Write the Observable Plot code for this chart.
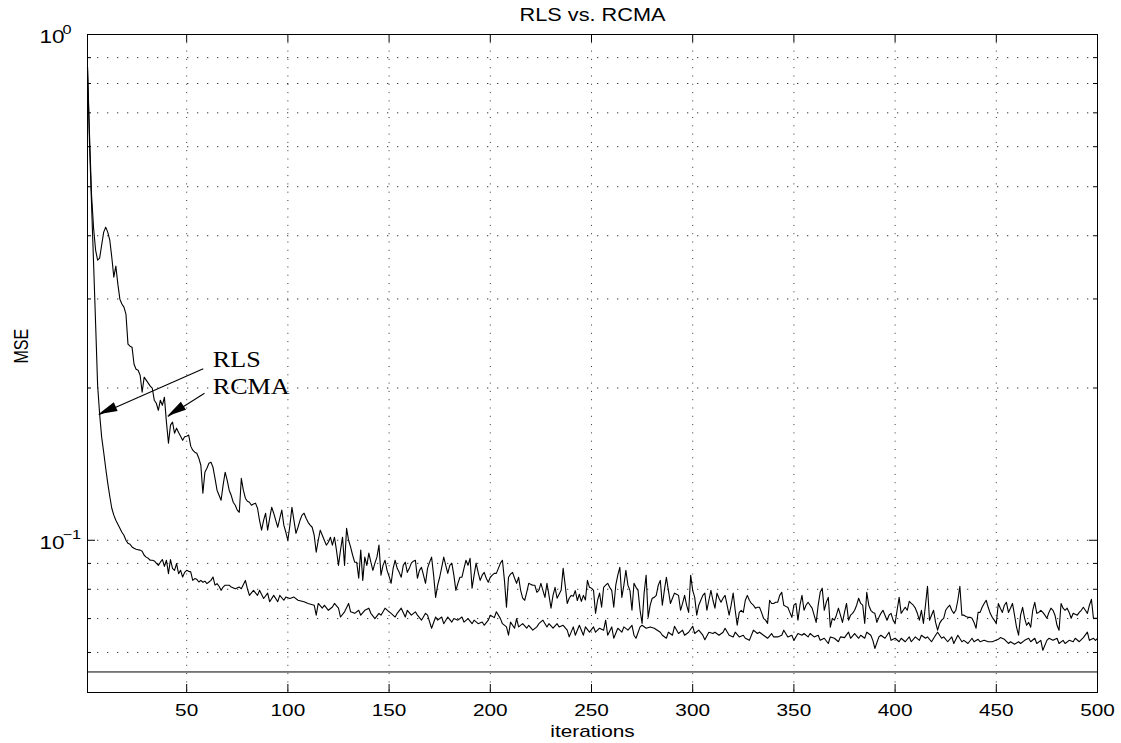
<!DOCTYPE html>
<html><head><meta charset="utf-8">
<script src="https://cdn.jsdelivr.net/npm/d3@7"></script>
<script src="https://cdn.jsdelivr.net/npm/@observablehq/plot@0.6"></script>
<style>html,body{margin:0;padding:0;background:#fff}svg{display:block}</style>
</head><body><div id="chart"></div>
<script>
const title = "RLS vs. RCMA";
const xLabel = "iterations";
const yLabel = "MSE";
const xTicks = [50, 100, 150, 200, 250, 300, 350, 400, 450, 500];
const yMajor = [0.1, 1];
const yMinor = [0.06, 0.07, 0.08, 0.09, 0.2, 0.3, 0.4, 0.5, 0.6, 0.7, 0.8, 0.9];
const yLabels = [{v: 1, exp: "0"}, {v: 0.1, exp: "\u22121"}];
const minMse = 0.0549;

// RCMA MSE, iterations 1..500
const rcma = [
0.862,0.633,0.4814,0.4143,0.3748,0.3580,0.3613,0.3835,0.4067,0.416,
0.4067,0.3923,0.3628,0.3314,0.3484,0.3209,0.2997,0.2931,0.2890,0.2799,
0.2442,0.2420,0.2409,0.2229,0.2179,0.2169,0.2120,0.1962,0.2101,0.2073,
0.2045,0.2017,0.1998,0.1892,0.1866,0.1807,0.1892,0.1849,0.1918,0.1712,
0.1555,0.1689,0.1712,0.1628,0.1666,0.1634,0.1606,0.1576,0.1602,0.1606,
0.1614,0.1535,0.1507,0.1493,0.1486,0.1453,0.1407,0.1239,0.1363,0.1388,
0.1420,0.1427,0.1394,0.1326,0.1256,0.1227,0.1200,0.1285,0.1363,0.1315,
0.1256,0.1227,0.1189,0.1173,0.1147,0.1136,0.1326,0.1256,0.1211,0.1194,
0.1189,0.1173,0.1179,0.1184,0.1157,0.1095,0.1047,0.1095,0.1131,0.1047,
0.1105,0.1162,0.1131,0.1095,0.1061,0.1105,0.1147,0.1071,0.1037,0.1000,
0.1071,0.1162,0.1095,0.1032,0.1061,0.1095,0.1121,0.1131,0.1105,0.1085,
0.1071,0.1061,0.1023,0.0947,0.1000,0.1047,0.1023,0.1000,0.0978,0.0991,
0.1014,0.0978,0.1014,0.0956,0.0892,0.0956,0.1014,0.0892,0.1056,0.1000,
0.0969,0.0934,0.0905,0.0905,0.0841,0.0956,0.0833,0.0926,0.0892,0.0943,
0.0905,0.0872,0.0901,0.0926,0.0978,0.0853,0.0892,0.0913,0.0872,0.0849,
0.0822,0.0880,0.0913,0.0880,0.0864,0.0845,0.0892,0.0905,0.0864,0.0880,
0.0901,0.0909,0.0913,0.0841,0.0872,0.0884,0.0853,0.0822,0.0880,0.0905,
0.0926,0.0853,0.0771,0.0815,0.0845,0.0884,0.0926,0.0892,0.0860,0.0892,
0.0901,0.0853,0.0796,0.0822,0.0845,0.0845,0.0880,0.0913,0.0892,0.0921,
0.0804,0.0853,0.0901,0.0864,0.0833,0.0853,0.0864,0.0841,0.0826,0.0845,
0.0853,0.0860,0.0860,0.0880,0.0901,0.0913,0.0833,0.0737,0.0845,0.0857,
0.0864,0.0841,0.0822,0.0845,0.0796,0.0768,0.0761,0.0789,0.0822,0.0818,
0.0815,0.0815,0.0789,0.0796,0.0822,0.0796,0.0771,0.0822,0.0778,0.0734,
0.0778,0.0807,0.0768,0.0782,0.0796,0.0880,0.0815,0.0750,0.0768,0.0778,
0.0775,0.0795,0.0760,0.0782,0.0757,0.0778,0.0762,0.0833,0.0807,0.0804,
0.0796,0.0717,0.0761,0.0786,0.0737,0.0807,0.0815,0.0822,0.0807,0.0796,
0.0737,0.0815,0.0853,0.0884,0.0771,0.0815,0.0872,0.0815,0.0796,0.0727,
0.0822,0.0807,0.0796,0.0727,0.0685,0.0786,0.0853,0.0704,0.0744,0.0768,
0.0771,0.0778,0.0815,0.0833,0.0744,0.0796,0.0845,0.0796,0.0750,0.0768,
0.0786,0.0782,0.0778,0.0727,0.0750,0.0778,0.0744,0.0720,0.0853,0.0796,
0.0771,0.0711,0.0744,0.0761,0.0778,0.0786,0.0727,0.0761,0.0796,0.0761,
0.0734,0.0786,0.0768,0.0754,0.0768,0.0778,0.0744,0.0711,0.0744,0.0786,
0.0727,0.0679,0.0720,0.0727,0.0720,0.0761,0.0778,0.0761,0.0750,0.0744,
0.0734,0.0737,0.0737,0.0720,0.0701,0.0695,0.0685,0.0761,0.0750,0.0750,
0.0754,0.0754,0.0778,0.0789,0.0744,0.0740,0.0737,0.0720,0.0704,0.0744,
0.0750,0.0695,0.0744,0.0778,0.0727,0.0744,0.0754,0.0744,0.0734,0.0711,
0.0688,0.0744,0.0789,0.0804,0.0727,0.0754,0.0771,0.0673,0.0701,0.0695,
0.0711,0.0734,0.0711,0.0688,0.0720,0.0750,0.0695,0.0711,0.0717,0.0727,
0.0744,0.0768,0.0750,0.0744,0.0685,0.0789,0.0744,0.0727,0.0720,0.0717,
0.0688,0.0704,0.0717,0.0727,0.0711,0.0695,0.0711,0.0717,0.0695,0.0685,
0.0727,0.0771,0.0717,0.0727,0.0737,0.0727,0.0757,0.0750,0.0744,0.0734,
0.0717,0.0695,0.0727,0.0685,0.0744,0.0811,0.0695,0.0711,0.0727,0.0688,
0.0664,0.0685,0.0695,0.0701,0.0727,0.0737,0.0744,0.0727,0.0717,0.0727,
0.0761,0.0811,0.0711,0.0711,0.0707,0.0704,0.0704,0.0701,0.0688,0.0670,
0.0720,0.0720,0.0737,0.0750,0.0761,0.0737,0.0717,0.0704,0.0695,0.0685,
0.0750,0.0734,0.0720,0.0744,0.0754,0.0720,0.0734,0.0750,0.0711,0.0673,
0.0649,0.0711,0.0737,0.0701,0.0679,0.0688,0.0673,0.0727,0.0754,0.0717,
0.0720,0.0727,0.0720,0.0711,0.0701,0.0720,0.0734,0.0727,0.0711,0.0679,
0.0664,0.0750,0.0734,0.0727,0.0734,0.0720,0.0701,0.0717,0.0714,0.0711,
0.0720,0.0727,0.0737,0.0727,0.0717,0.0744,0.0764,0.0701,0.0701,0.0701
];

// RLS MSE as [iteration, mse]
const rls = [
[1,0.862],[2,0.607],[3,0.462],[4,0.3532],[5,0.2687],[6,0.2025],[7,0.1775],[8,0.1599],[9,0.1493],[10,0.1388],
[11,0.1297],[12,0.1222],[13,0.1157],[14,0.1121],[15,0.1095],[16,0.1075],[17,0.1056],[18,0.1037],[19,0.1023],[20,0.1000],
[21,0.0986],[22,0.0982],[23,0.0970],[24,0.0964],[25,0.0960],[26,0.0958],[27,0.0956],[28,0.0951],[29,0.0934],[30,0.0926],
[31,0.0921],[32,0.0913],[33,0.0913],[34,0.0910],[35,0.0901],[36,0.0892],[37,0.0905],[38,0.0916],[39,0.0888],[40,0.0913],
[41,0.0859],[42,0.0916],[43,0.0880],[44,0.0872],[45,0.0899],[46,0.0859],[47,0.0872],[48,0.0846],[49,0.0864],[50,0.0872],
[51,0.0868],[52,0.0866],[53,0.0833],[54,0.0840],[55,0.0837],[56,0.0827],[57,0.0833],[58,0.0826],[59,0.0830],[60,0.0821],
[61,0.0827],[62,0.0833],[63,0.0846],[64,0.0815],[65,0.0821],[66,0.0811],[67,0.0796],[68,0.0808],[69,0.0815],[71,0.0815],
[72,0.0808],[74,0.0802],[76,0.0808],[77,0.0802],[79,0.0833],[80,0.0802],[81,0.0778],[83,0.0796],[85,0.0778],[86,0.0796],
[88,0.0767],[90,0.0786],[91,0.0756],[93,0.0778],[95,0.0756],[96,0.0778],[98,0.0761],[99,0.0772],[101,0.0767],[103,0.0772],
[105,0.0761],[108,0.0756],[110,0.0750],[113,0.0744],[114,0.0711],[115,0.0750],[117,0.0734],[118,0.0744],[120,0.0727],[122,0.0738],
[123,0.0750],[125,0.0734],[126,0.0705],[128,0.0722],[130,0.0750],[131,0.0722],[133,0.0717],[135,0.0727],[136,0.0711],[138,0.0727],
[140,0.0734],[141,0.0717],[143,0.0700],[145,0.0717],[146,0.0711],[148,0.0734],[150,0.0722],[151,0.0717],[153,0.0705],[154,0.0717],
[156,0.0734],[158,0.0705],[159,0.0727],[161,0.0711],[163,0.0722],[164,0.0711],[166,0.0695],[168,0.0717],[169,0.0711],[171,0.0670],
[173,0.0705],[174,0.0695],[176,0.0705],[177,0.0684],[179,0.0705],[181,0.0689],[182,0.0700],[184,0.0695],[186,0.0705],[187,0.0689],
[189,0.0700],[191,0.0684],[192,0.0695],[194,0.0684],[196,0.0689],[197,0.0679],[199,0.0695],[200,0.0711],[202,0.0703],[203,0.0722],
[205,0.0700],[206,0.0684],[208,0.0674],[209,0.0649],[210,0.0689],[212,0.0670],[213,0.0700],[214,0.0674],[216,0.0684],[218,0.0670],
[219,0.0679],[221,0.0664],[223,0.0674],[224,0.0684],[226,0.0695],[228,0.0674],[229,0.0684],[231,0.0670],[233,0.0684],[234,0.0674],
[236,0.0679],[238,0.0664],[239,0.0644],[241,0.0674],[242,0.0649],[244,0.0679],[246,0.0649],[247,0.0674],[249,0.0658],[251,0.0674],
[252,0.0658],[254,0.0670],[256,0.0664],[257,0.0695],[258,0.0649],[260,0.0674],[261,0.0640],[263,0.0670],[265,0.0658],[266,0.0674],
[268,0.0664],[270,0.0679],[271,0.0649],[272,0.0640],[274,0.0674],[275,0.0679],[277,0.0670],[279,0.0674],[281,0.0670],[284,0.0658],
[285,0.0649],[287,0.0640],[288,0.0658],[290,0.0649],[291,0.0676],[293,0.0654],[295,0.0664],[296,0.0649],[298,0.0658],[300,0.0676],
[301,0.0654],[303,0.0664],[305,0.0649],[306,0.0636],[308,0.0658],[310,0.0654],[311,0.0658],[313,0.0649],[315,0.0658],[316,0.0670],
[318,0.0649],[320,0.0644],[321,0.0658],[323,0.0644],[325,0.0649],[326,0.0640],[328,0.0634],[330,0.0664],[332,0.0654],[333,0.0658],
[335,0.0649],[337,0.0640],[339,0.0654],[340,0.0644],[342,0.0644],[344,0.0649],[345,0.0664],[347,0.0644],[349,0.0649],[350,0.0634],
[352,0.0654],[354,0.0649],[355,0.0654],[357,0.0644],[358,0.0654],[360,0.0644],[362,0.0649],[363,0.0634],[365,0.0640],[367,0.0625],
[368,0.0644],[370,0.0640],[372,0.0630],[373,0.0644],[375,0.0642],[377,0.0658],[378,0.0640],[380,0.0654],[382,0.0640],[383,0.0649],
[385,0.0640],[386,0.0658],[388,0.0649],[389,0.0634],[390,0.0611],[392,0.0644],[393,0.0649],[395,0.0640],[397,0.0658],[398,0.0634],
[400,0.0640],[402,0.0630],[403,0.0640],[405,0.0630],[407,0.0644],[408,0.0630],[410,0.0644],[412,0.0634],[413,0.0649],[415,0.0640],
[416,0.0644],[418,0.0630],[420,0.0649],[421,0.0658],[423,0.0640],[424,0.0644],[426,0.0630],[428,0.0644],[429,0.0625],[431,0.0649],
[433,0.0630],[434,0.0634],[436,0.0625],[438,0.0640],[439,0.0630],[441,0.0637],[442,0.0630],[444,0.0634],[446,0.0630],[448,0.0630],
[451,0.0637],[452,0.0642],[454,0.0637],[456,0.0625],[457,0.0630],[459,0.0623],[461,0.0630],[462,0.0625],[464,0.0634],[466,0.0640],
[467,0.0630],[469,0.0640],[470,0.0625],[472,0.0634],[473,0.0606],[475,0.0634],[476,0.0640],[478,0.0634],[480,0.0640],[481,0.0625],
[483,0.0634],[484,0.0625],[486,0.0634],[488,0.0630],[489,0.0640],[491,0.0630],[493,0.0642],[495,0.0658],[496,0.0634],[498,0.0640],
[499,0.0634],[500,0.0640]
];

// annotations: text anchor, arrow tail and arrow tip (data coords)
const notes = [
  {label: "RLS",  textX: 62.9, textY: 0.2196, tailX: 58.2, tailY: 0.2183, tipX: 6.6,  tipY: 0.1770},
  {label: "RCMA", textX: 62.9, textY: 0.1946, tailX: 58.8, tailY: 0.1953, tipX: 40.7, tipY: 0.1757}
];

const W = 1121, H = 743, mL = 87, mR = 24, mT = 34, mB = 51;
const innerW = W - mL - mR, innerH = H - mT - mB;
const sans = "'Liberation Sans', Arial, Helvetica, sans-serif";
const rcmaData = rcma.map((v, i) => ({it: i + 1, mse: v}));
const rlsData = rls.map(([it, mse]) => ({it, mse}));

const arrowHeads = (index, scales) => {
  const g = d3.create("svg:g").attr("aria-label", "arrowheads");
  for (const n of notes) {
    const x1 = scales.x(n.tailX), y1 = scales.y(n.tailY);
    const x2 = scales.x(n.tipX), y2 = scales.y(n.tipY);
    const a = Math.atan2(y2 - y1, x2 - x1);
    const L = 19, hw = 4.8;
    const bx = x2 - L * Math.cos(a), by = y2 - L * Math.sin(a);
    const px = -Math.sin(a) * hw, py = Math.cos(a) * hw;
    g.append("path")
      .attr("d", `M${x2},${y2}L${bx + px},${by + py}L${bx - px},${by - py}Z`)
      .attr("fill", "#000");
  }
  return g.node();
};

const chart = Plot.plot({
  width: W, height: H,
  marginLeft: mL, marginRight: mR, marginTop: mT, marginBottom: mB,
  style: {fontFamily: sans, background: "#fff", color: "#000"},
  x: {domain: [1, 500], axis: null},
  y: {type: "log", domain: [0.05, 1], axis: null},
  marks: [
    Plot.gridX(xTicks.slice(0, -1), {stroke: "#000", strokeOpacity: 0.8, strokeWidth: 1, strokeDasharray: "1,7.3"}),
    Plot.gridY([...yMinor, 0.1], {stroke: "#000", strokeOpacity: 0.8, strokeWidth: 1, strokeDasharray: "1.3,8.7"}),
    Plot.ruleY([minMse], {stroke: "#000", strokeWidth: 1}),
    Plot.lineY(rcmaData, {x: "it", y: "mse", stroke: "#000", strokeWidth: 1.1}),
    Plot.lineY(rlsData, {x: "it", y: "mse", stroke: "#000", strokeWidth: 1.1}),
    // inward ticks
    Plot.ruleX(xTicks, {x: d => d, insetTop: innerH - 8, stroke: "#000"}),
    Plot.ruleX(xTicks, {x: d => d, insetBottom: innerH - 8, stroke: "#000"}),
    Plot.ruleY(yMajor, {y: d => d, insetRight: innerW - 8, stroke: "#000"}),
    Plot.ruleY(yMajor, {y: d => d, insetLeft: innerW - 8, stroke: "#000"}),
    Plot.ruleY(yMinor, {y: d => d, insetRight: innerW - 4, stroke: "#000"}),
    Plot.ruleY(yMinor, {y: d => d, insetLeft: innerW - 4, stroke: "#000"}),
    Plot.frame({stroke: "#000", strokeWidth: 1}),
    // tick labels
    Plot.text(xTicks, {x: d => d, text: d => String(d), frameAnchor: "bottom", lineAnchor: "middle", dy: 18, fontSize: 16, fill: "#000", ariaDescription: "xticklabels"}),
    Plot.text(yLabels, {y: "v", text: () => "10", frameAnchor: "left", textAnchor: "start", lineAnchor: "middle", dx: -48, dy: 3, fontSize: 18, fill: "#000", ariaDescription: "yticklabels"}),
    Plot.text(yLabels, {y: "v", text: "exp", frameAnchor: "left", textAnchor: "start", lineAnchor: "middle", dx: -25, dy: -5, fontSize: 12.5, fill: "#000", ariaDescription: "yticksup"}),
    // axis labels & title
    Plot.text([xLabel], {frameAnchor: "bottom", lineAnchor: "middle", dy: 39, fontSize: 16, fill: "#000", ariaDescription: "xlabel"}),
    Plot.text([yLabel], {frameAnchor: "left", lineAnchor: "middle", rotate: -90, dx: -66.5, fontSize: 16, fill: "#000", ariaDescription: "ylabel"}),
    Plot.text([title], {frameAnchor: "top", lineAnchor: "middle", dy: -19.6, fontSize: 17.5, fill: "#000", ariaDescription: "title"}),
    // annotations
    Plot.link(notes, {x1: "tailX", y1: "tailY", x2: "tipX", y2: "tipY", stroke: "#000", strokeWidth: 1.1}),
    arrowHeads,
    Plot.text(notes, {x: "textX", y: "textY", text: "label", textAnchor: "start", lineAnchor: "bottom", fontSize: 22.5, fontFamily: "'Liberation Serif', 'Times New Roman', serif", fill: "#000", ariaDescription: "notes"})
  ]
});

function stretch(svg, desc, sx, sy = 1) {
  svg.querySelectorAll(`g[aria-description="${desc}"] text`).forEach(t => {
    const tr = t.getAttribute("transform");
    if (tr) t.setAttribute("transform", `${tr} scale(${sx},${sy})`);
    else {
      const x = +t.getAttribute("x") || 0;
      const y = t.getAttribute("y");
      const yn = y != null && !/em$/.test(y) ? +y : null;
      t.setAttribute("x", 0);
      if (yn != null) t.setAttribute("y", 0);
      t.setAttribute("transform", `translate(${x},${yn ?? 0}) scale(${sx},${sy})`);
    }
  });
}
stretch(chart, "xticklabels", 1.3);
stretch(chart, "yticklabels", 1.25);
stretch(chart, "yticksup", 1.3);
stretch(chart, "xlabel", 1.3);
stretch(chart, "ylabel", 1, 1.3);
stretch(chart, "title", 1.24);
stretch(chart, "notes", 1.16);

document.getElementById("chart").append(chart);
</script>
</body></html>
